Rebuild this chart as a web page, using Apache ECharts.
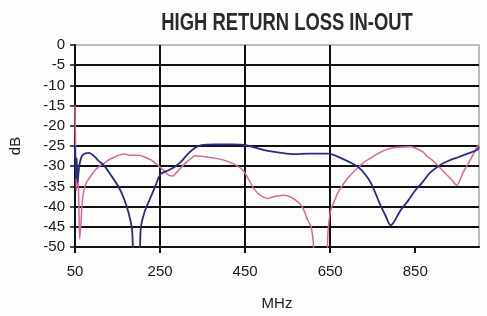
<!DOCTYPE html>
<html>
<head>
<meta charset="utf-8">
<script src="https://cdn.jsdelivr.net/npm/echarts@6/dist/echarts.min.js"></script>
<style>html,body{margin:0;padding:0;background:#fdfdfb;}#c{width:487px;height:316px;}</style>
</head>
<body>
<div id="c"></div>
<script>
// ==================== DATA ====================
const title='HIGH RETURN LOSS IN-OUT';
const xTicks=[50,250,450,650,850];

const blueMHz=[50,52,54,56,60,66,75,83,95,105,118,135,153,165,176,184,189,200,205,213,225,238,251,270,284,300,315,330,347,380,420,452,480,504,535,565,600,647,665,682,700,717,732,745,757,768,780,792,800,815,832,850,867,885,909,930,948,970,995,1000];
const blueDB=[-25,-33,-28,-34,-30,-27.5,-26.8,-26.7,-27.5,-28.6,-29.8,-32.3,-35.2,-38,-41.5,-45.5,-52,-52,-45,-41.5,-38.4,-35.2,-32,-31,-30.2,-28.8,-27,-25.6,-24.8,-24.6,-24.6,-24.8,-25.6,-26.2,-26.7,-27,-26.9,-26.9,-27.5,-28.3,-29.2,-30.3,-32,-34,-36.8,-39.6,-42.2,-44.6,-43.8,-41,-38.7,-36,-34,-31.6,-29.7,-28.6,-27.9,-27,-26,-25.3];

const pinkMHz=[50,51,53,55,58,61,64,67,71,77,83,90,97,108,118,130,144,155,167,180,200,215,230,245,258,270,280,290,300,312,324,331,350,378,400,424,445,457,470,480,492,504,515,527,540,551,560,569,580,588,597,605,609,616,640,645,651,660,668,680,691,704,717,730,745,760,775,790,808,838,850,869,878,890,902,914,925,937,948,955,962,970,979,987,995,1000];
const pinkDB=[-15,-22,-36,-33,-35,-48,-44,-39,-36,-34,-33,-32,-31,-30,-29.3,-28.4,-27.7,-27.2,-27,-27.3,-27.3,-27.8,-28.5,-29.8,-31,-32.2,-32.4,-31.4,-30.3,-29,-28,-27.4,-27.6,-28,-28.5,-29.5,-31,-33,-35.5,-36.7,-37.6,-38,-37.6,-37.4,-37.2,-37.4,-37.8,-38.4,-39.5,-40.8,-43.3,-45,-47.5,-52,-52,-46,-41,-38.6,-36.6,-34.6,-33,-31.5,-30.2,-29,-28,-27,-26.2,-25.6,-25.3,-25.2,-25.5,-26.5,-27.6,-28.5,-29.7,-31,-32.2,-33.5,-34.7,-33.5,-31.7,-30.2,-28.5,-27,-25.3,-24.8];

const pairs=(xs,ys)=>xs.map((x,i)=>[x,ys[i]]);

// ==================== CHART ====================
const chart=echarts.init(document.getElementById('c'));
const labelFont={color:'#1a1a1a',fontSize:15,fontFamily:'"Liberation Sans", Arial, sans-serif'};
const gridC='#111', borderC='#a8a8a8';
chart.setOption({
  backgroundColor:'#fdfdfb',
  animation:false,
  graphic:[{type:'text',x:287,y:24,scaleX:0.8,
    style:{text:title,align:'center',verticalAlign:'middle',fill:'#2a2a2a',
      font:'bold 23px "Liberation Sans", Arial, sans-serif'}}],
  grid:{left:73,right:8,top:45,bottom:69,show:true,borderColor:borderC,borderWidth:1.5},
  xAxis:{type:'value',min:50,max:1000,
    name:'MHz',nameLocation:'middle',nameGap:49,nameTextStyle:labelFont,
    axisLine:{onZero:false,lineStyle:{color:gridC,width:2}},
    axisTick:{customValues:xTicks,length:6,lineStyle:{color:gridC,width:2}},
    axisLabel:Object.assign({customValues:xTicks,margin:17},labelFont),
    splitLine:{showMaxLine:false,lineStyle:{color:gridC,width:2}}},
  yAxis:{type:'value',min:-50,max:0,interval:5,
    name:'dB',nameLocation:'middle',nameGap:52,nameRotate:90,nameTextStyle:labelFont,
    axisLine:{show:true,lineStyle:{color:gridC,width:2}},
    axisTick:{show:true,length:5,lineStyle:{color:gridC,width:1.5}},
    axisLabel:Object.assign({margin:10},labelFont),
    splitLine:{showMaxLine:false,lineStyle:{color:[gridC,gridC,gridC,gridC,gridC,gridC,gridC,gridC,gridC,gridC,borderC],width:2}}},
  series:[
    {name:'Out',type:'line',data:pairs(pinkMHz,pinkDB),symbol:'none',smooth:0.3,
      lineStyle:{color:'#d866a0',width:1.5}},
    {name:'In',type:'line',data:pairs(blueMHz,blueDB),symbol:'none',smooth:0.3,
      lineStyle:{color:'#2b2b84',width:1.8}}
  ]
});
</script>
</body>
</html>
